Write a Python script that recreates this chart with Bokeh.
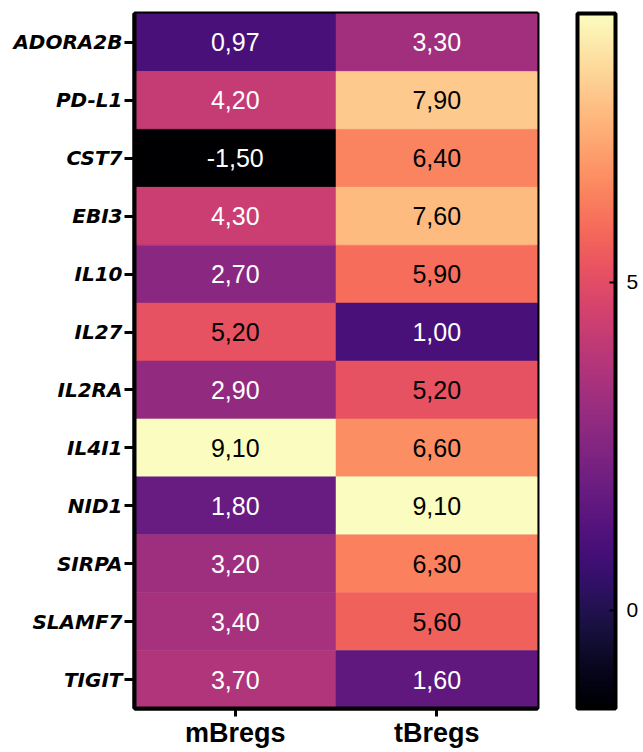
from bokeh.plotting import figure
from bokeh.models import ColumnDataSource, LinearColorMapper, ColorBar, FixedTicker, FactorRange
from bokeh.palettes import Magma256
from bokeh.core.properties import value
from bokeh.embed import file_html
from bokeh.resources import INLINE

genes = ["ADORA2B", "PD-L1", "CST7", "EBI3", "IL10", "IL27", "IL2RA",
         "IL4I1", "NID1", "SIRPA", "SLAMF7", "TIGIT"]
groups = ["mBregs", "tBregs"]
mbregs = [0.97, 4.20, -1.50, 4.30, 2.70, 5.20, 2.90, 9.10, 1.80, 3.20, 3.40, 3.70]
tbregs = [3.30, 7.90, 6.40, 7.60, 5.90, 1.00, 5.20, 6.60, 9.10, 6.30, 5.60, 1.60]
cbar_ticks = [0, 5]
vmin, vmax = -1.5, 9.1

xs, ys, vs = [], [], []
for g, vals in zip(groups, [mbregs, tbregs]):
    for gene, v in zip(genes, vals):
        xs.append(g)
        ys.append(gene)
        vs.append(v)
labels = [f"{v:.2f}".replace(".", ",") for v in vs]
tcolors = ["black" if v >= 5 else "white" for v in vs]

src = ColumnDataSource(dict(x=xs, y=ys, v=vs, label=labels, tc=tcolors))
mapper = LinearColorMapper(palette=Magma256, low=vmin, high=vmax)

p = figure(frame_width=403, frame_height=695, output_backend="svg", toolbar_location=None,
           x_range=FactorRange(*groups), y_range=FactorRange(*list(reversed(genes))),
           min_border_left=134, min_border_top=13, min_border_bottom=10, min_border_right=0)

p.rect(x="x", y="y", width=1, height=1, source=src,
       fill_color={"field": "v", "transform": mapper},
       line_color={"field": "v", "transform": mapper}, line_width=0.5)
p.text(x="x", y="y", text="label", source=src, text_color="tc",
       text_align="center", text_baseline="middle",
       text_font=value("Liberation Sans"), text_font_size="25px")

p.grid.visible = False
p.outline_line_color = "black"
p.outline_line_width = 4

for ax in (p.xaxis, p.yaxis):
    ax.axis_line_width = 4
    ax.axis_line_color = "black"
    ax.major_tick_line_width = 3
    ax.major_tick_line_color = "black"
    ax.major_tick_in = 0
    ax.minor_tick_line_color = None

p.yaxis.major_tick_out = 10
p.yaxis.major_label_standoff = 2
p.yaxis.major_label_text_font = "DejaVu Sans"
p.yaxis.major_label_text_font_style = "bold italic"
p.yaxis.major_label_text_font_size = "20px"
p.yaxis.major_label_text_color = "black"

p.xaxis.major_tick_out = 8
p.xaxis.major_label_standoff = 1
p.xaxis.major_label_text_font = "Liberation Sans"
p.xaxis.major_label_text_font_style = "bold"
p.xaxis.major_label_text_font_size = "27px"
p.xaxis.major_label_text_color = "black"

cb = ColorBar(color_mapper=mapper, ticker=FixedTicker(ticks=cbar_ticks),
              width=38, height=695, margin=0, padding=0,
              location=(40, 0),
              bar_line_color="black", bar_line_width=4,
              major_tick_in=6, major_tick_out=0,
              major_tick_line_color="black", major_tick_line_width=2,
              minor_tick_line_color=None,
              major_label_text_font="Liberation Sans",
              major_label_text_font_size="21px",
              major_label_text_color="black",
              label_standoff=11,
              border_line_color=None, background_fill_color=None)
p.add_layout(cb, "right")

open("out.html", "w").write(file_html(p, INLINE))
